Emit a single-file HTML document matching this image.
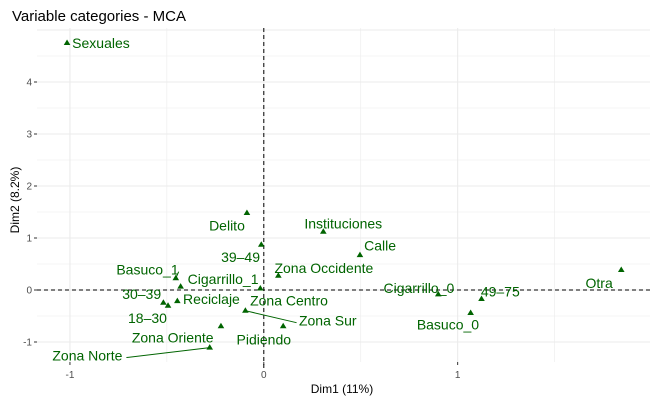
<!DOCTYPE html>
<html><head><meta charset="utf-8"><style>
body{margin:0;background:#fff;}
svg{display:block;font-family:"Liberation Sans",sans-serif;}
</style></head><body>
<svg id="chart" width="656" height="405">
<text x="12" y="21" font-size="15" fill="#000">Variable categories - MCA</text>
<g id="grid"></g>
<g id="axes"></g>
<g id="marks"></g>
<text x="342" y="393" font-size="12" text-anchor="middle" fill="#000">Dim1 (11%)</text>
<text transform="translate(19,200) rotate(-90)" font-size="12" text-anchor="middle" fill="#000">Dim2 (8.2%)</text>
</svg>
<script>
const categories=["Sexuales","Delito","Instituciones","Calle","39–49","Zona Occidente","Basuco_1","Cigarrillo_1","Zona Centro","Reciclaje","30–39","18–30","Zona Sur","Zona Oriente","Pidiendo","Zona Norte","Cigarrillo_0","49–75","Basuco_0","Otra"];
const dim1=[-1.015,-0.087,0.307,0.496,-0.013,0.075,-0.454,-0.429,-0.018,-0.446,-0.518,-0.494,-0.095,-0.221,0.1,-0.279,0.9,1.123,1.067,1.844];
const dim2=[4.75,1.48,1.12,0.67,0.87,0.275,0.225,0.064,0.03,-0.215,-0.244,-0.302,-0.398,-0.698,-0.698,-1.109,-0.083,-0.173,-0.442,0.385];
const labelX=[-0.84,-0.19,0.41,0.6,-0.12,0.31,-0.6,-0.21,0.13,-0.27,-0.63,-0.6,0.33,-0.47,0,-0.91,0.8,1.22,0.95,1.73];
const labelY=[4.75,1.24,1.28,0.86,0.63,0.42,0.39,0.21,-0.2,-0.17,-0.08,-0.54,-0.59,-0.91,-0.95,-1.26,0.04,-0.03,-0.66,0.13];
const linked=["Basuco_1","Zona Sur","Zona Norte"];
const xTicks=[-1,0,1];
const yTicks=[-1,0,1,2,3,4];
const NS="http://www.w3.org/2000/svg";
const L=37,R=650,T=28,B=362;
function sx(v){return 263.8+v*193.85;}
function sy(v){return 290-v*52;}
function mk(t,a,p){const e=document.createElementNS(NS,t);for(const k in a)e.setAttribute(k,a[k]);p.appendChild(e);return e;}
const grid=document.getElementById('grid'),axes=document.getElementById('axes'),marks=document.getElementById('marks');
for(let v=-1;v<=2;v+=0.5){const x=sx(v);if(x<L||x>R)continue;
 const g=mk('line',{x1:x,x2:x,y1:T,y2:B,stroke:'#ebebeb','stroke-width':Number.isInteger(v)?1.1:0.6},grid);
 }
for(let v=-1.5;v<=5;v+=0.5){const y=sy(v);if(y<T||y>B)continue;
 const g=mk('line',{x1:L,x2:R,y1:y,y2:y,stroke:'#ebebeb','stroke-width':Number.isInteger(v)?1.1:0.6},grid);
 }
xTicks.forEach(v=>{const x=sx(v);
 const t=mk('line',{x1:x,x2:x,y1:B,y2:B+3,stroke:'#333'},axes);
 
 const l=mk('text',{x:x,y:B+16,'font-size':10,'text-anchor':'middle',fill:'#4d4d4d'},axes);l.textContent=v;
 });
yTicks.forEach(v=>{const y=sy(v);
 const t=mk('line',{x1:L-3,x2:L,y1:y,y2:y,stroke:'#333'},axes);
 
 const l=mk('text',{x:L-5,y:y+3.5,'font-size':10,'text-anchor':'end',fill:'#4d4d4d'},axes);l.textContent=v;
 });
let h=mk('line',{x1:L,x2:R,y1:sy(0),y2:sy(0),stroke:'#000','stroke-dasharray':'4,3'},axes);

let vl=mk('line',{x1:sx(0),x2:sx(0),y1:T,y2:B+8,stroke:'#000','stroke-dasharray':'4,3'},axes);

categories.forEach((c,i)=>{const x=sx(dim1[i]),y=sy(dim2[i]),lx=sx(labelX[i]),ly=sy(labelY[i]);
 if(linked.includes(c)){const s=mk('line',{x1:x,y1:y,x2:lx+(lx<x?c.length*3.9:-c.length*3.9),y2:ly+2,stroke:'#006400','stroke-width':1},marks);
  }
 const p=mk('path',{d:`M${x},${y-3.5}L${x+3.3},${y+2}L${x-3.3},${y+2}Z`,fill:'#006400'},marks);
 
 const t=mk('text',{x:lx,y:ly+5,'font-size':14,'text-anchor':'middle',fill:'#006400'},marks);t.textContent=c;
 });
</script>
</body></html>
